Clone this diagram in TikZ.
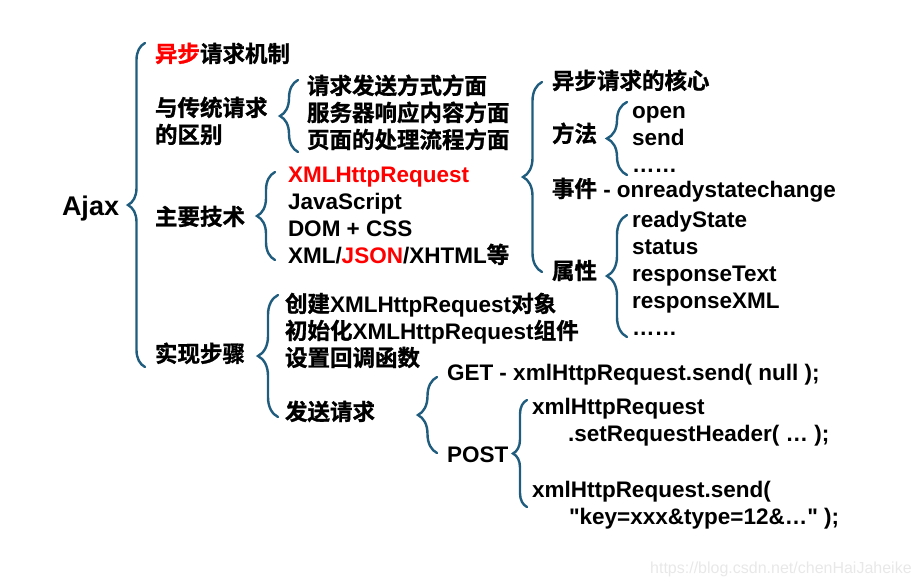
\documentclass[tikz,border=0pt]{standalone}
\usepackage{fontspec}
\setmainfont{Liberation Sans}[Ligatures=TeXOff]
\newfontfamily\cjkfont{Noto Sans CJK SC}[BoldFont={Noto Sans CJK SC Bold},BoldFeatures={FakeBold=1.2}]
\newcommand\zh[1]{{\cjkfont #1}}
\usetikzlibrary{decorations.pathreplacing}
\definecolor{bracecol}{RGB}{31,92,125}
\definecolor{wmcol}{RGB}{232,232,232}
\begin{document}
\begin{tikzpicture}[x=1pt,y=-1pt,
  txt/.style={anchor=base west,inner sep=0pt,outer sep=0pt,font=\bfseries\fontsize{22.5}{27}\selectfont},
  bigtxt/.style={txt,font=\bfseries\fontsize{27}{32}\selectfont},
  curly/.style={draw=bracecol,line width=2.4pt,line cap=round,decorate,decoration={brace,amplitude=#1}}]
\useasboundingbox (0,0) rectangle (921,587);
% root
\node[bigtxt] (ajax) at (62,215) {Ajax};
% level 1
\node[txt] (a1) at (155,62) {\zh{\textcolor{red}{异步}请求机制}};
\node[txt] (a2a) at (155,116) {\zh{与传统请求}};
\node[txt] (a2b) at (155,143) {\zh{的区别}};
\node[txt] (a3) at (155,225) {\zh{主要技术}};
\node[txt] (a4) at (155,362) {\zh{实现步骤}};
% differences
\node[txt] (d1) at (307,94) {\zh{请求发送方式方面}};
\node[txt] (d2) at (307,121) {\zh{服务器响应内容方面}};
\node[txt] (d3) at (307,148) {\zh{页面的处理流程方面}};
% technologies
\node[txt,text=red] (t1) at (288,182) {XMLHttpRequest};
\node[txt] (t2) at (288,209) {JavaScript};
\node[txt] (t3) at (288,236) {DOM + CSS};
\node[txt] (t4) at (288,263) {XML/\textcolor{red}{JSON}/XHTML\zh{等}};
% XMLHttpRequest details
\node[txt] (c1) at (552,89) {\zh{异步请求的核心}};
\node[txt] (c2) at (552,142) {\zh{方法}};
\node[txt] (c3) at (552,197) {\zh{事件} - onreadystatechange};
\node[txt] (c4) at (552,279) {\zh{属性}};
\node[txt] (m1) at (632,118) {open};
\node[txt] (m2) at (632,145) {send};
\node[txt] (m3) at (632,172) {……};
\node[txt] (p1) at (632,227) {readyState};
\node[txt] (p2) at (632,254) {status};
\node[txt] (p3) at (632,281) {responseText};
\node[txt] (p4) at (632,308) {responseXML};
\node[txt] (p5) at (632,335) {……};
% steps
\node[txt] (s1) at (285,312) {\zh{创建}XMLHttpRequest\zh{对象}};
\node[txt] (s2) at (285,339) {\zh{初始化}XMLHttpRequest\zh{组件}};
\node[txt] (s3) at (285,366) {\zh{设置回调函数}};
\node[txt] (s4) at (285,420) {\zh{发送请求}};
% send
\node[txt] (g1) at (447,380) {GET - xmlHttpRequest.send( null );};
\node[txt] (g2) at (447,462) {POST};
\node[txt] (q1) at (532,414) {xmlHttpRequest};
\node[txt] (q2) at (568,441) {.setRequestHeader( … );};
\node[txt] (q3) at (532,497) {xmlHttpRequest.send(};
\node[txt] (q4) at (569,524) {"key=xxx\&type=12\&…" );};
% watermark
\node[anchor=base west,inner sep=0pt,font=\fontsize{16}{19}\selectfont,text=wmcol] (wm) at (650,573) {https://blog.csdn.net/chenHaiJaheike};
% braces
\draw[curly=17] (145,367) -- (145,43);
\draw[curly=18] (298,152) -- (298,80);
\draw[curly=18] (275,260) -- (275,172);
\draw[curly=19] (542,272) -- (542,82);
\draw[curly=20] (627,175) -- (627,102);
\draw[curly=20] (627,337) -- (627,215);
\draw[curly=20] (278,417) -- (278,295);
\draw[curly=19] (437,453) -- (437,377);
\draw[curly=14] (527,507) -- (527,400);
\end{tikzpicture}
\end{document}
